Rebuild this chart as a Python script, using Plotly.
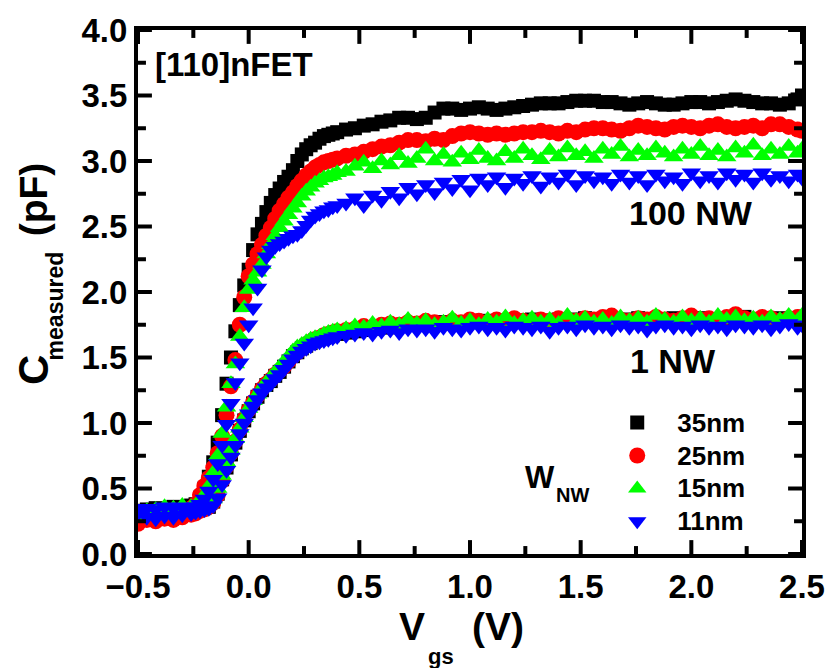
import plotly.graph_objects as go

# Gate voltage sweep points (V)
V = [-0.50, -0.46, -0.42, -0.38, -0.34, -0.30, -0.26,
     -0.24, -0.22, -0.20, -0.18, -0.16, -0.14, -0.12, -0.10, -0.08, -0.06,
     -0.04, -0.02, 0.00, 0.02, 0.04, 0.06, 0.08, 0.10, 0.12, 0.14, 0.16,
     0.18, 0.20, 0.22, 0.24, 0.26, 0.28, 0.30, 0.32, 0.34, 0.36, 0.38, 0.40,
     0.44, 0.48, 0.52, 0.56, 0.60, 0.64, 0.68, 0.72, 0.76, 0.80,
     0.84, 0.88, 0.92, 0.96, 1.00, 1.04, 1.08, 1.12, 1.16, 1.20,
     1.24, 1.28, 1.32, 1.36, 1.40, 1.44, 1.48, 1.52, 1.56, 1.60,
     1.64, 1.68, 1.72, 1.76, 1.80, 1.84, 1.88, 1.92, 1.96, 2.00,
     2.04, 2.08, 2.12, 2.16, 2.20, 2.24, 2.28, 2.32, 2.36, 2.40,
     2.44, 2.48, 2.50]

# Measured capacitance (pF), 100 nanowires in parallel
C100_35 = ([0.33, 0.34, 0.35, 0.34, 0.36, 0.35, 0.37]
           + [0.38, 0.43, 0.50, 0.59, 0.70, 0.85, 1.06, 1.30, 1.50, 1.70,
              1.90, 2.05, 2.17, 2.32, 2.44, 2.52, 2.61, 2.68, 2.74, 2.79,
              2.84, 2.88, 2.93, 3.00, 3.05, 3.09, 3.12, 3.14, 3.17, 3.19,
              3.20, 3.21, 3.22]
           + [3.24, 3.25, 3.27, 3.28, 3.30, 3.31, 3.33, 3.33, 3.32, 3.33,
              3.37, 3.40, 3.40, 3.39, 3.40, 3.41, 3.40, 3.39, 3.40, 3.41,
              3.42, 3.43, 3.44, 3.44, 3.44, 3.45, 3.46, 3.46, 3.46, 3.45,
              3.45, 3.44, 3.43, 3.44, 3.45, 3.44, 3.43, 3.43, 3.44, 3.45,
              3.45, 3.44, 3.45, 3.46, 3.47, 3.46, 3.45, 3.44, 3.44, 3.43,
              3.44, 3.47, 3.50])
C100_25 = ([0.25, 0.27, 0.29, 0.30, 0.31, 0.33, 0.35]
           + [0.38, 0.45, 0.52, 0.58, 0.66, 0.77, 0.90, 1.06, 1.28, 1.48,
              1.75, 1.96, 2.12, 2.21, 2.29, 2.36, 2.43, 2.49, 2.56, 2.62,
              2.67, 2.72, 2.76, 2.81, 2.85, 2.89, 2.92, 2.95, 2.97, 2.99,
              3.00, 3.01, 3.02]
           + [3.04, 3.05, 3.07, 3.09, 3.11, 3.12, 3.14, 3.16, 3.16, 3.15,
              3.17, 3.16, 3.19, 3.21, 3.22, 3.21, 3.20, 3.21, 3.20, 3.21,
              3.22, 3.22, 3.23, 3.22, 3.21, 3.23, 3.22, 3.24, 3.25, 3.25,
              3.24, 3.23, 3.25, 3.27, 3.26, 3.25, 3.24, 3.26, 3.27, 3.26,
              3.25, 3.27, 3.28, 3.26, 3.25, 3.26, 3.27, 3.25, 3.28, 3.28,
              3.26, 3.24, 3.23])
C100_15 = ([0.31, 0.33, 0.34, 0.36, 0.35, 0.37, 0.36]
           + [0.37, 0.40, 0.45, 0.52, 0.62, 0.75, 0.92, 1.12, 1.30, 1.45,
              1.66, 1.88, 2.02, 2.09, 2.15, 2.21, 2.29, 2.36, 2.43, 2.49,
              2.54, 2.59, 2.64, 2.68, 2.73, 2.77, 2.80, 2.83, 2.85, 2.87,
              2.88, 2.89, 2.91]
           + [2.92, 2.96, 2.99, 2.94, 3.00, 2.97, 3.04, 2.98, 3.02, 3.09,
              3.00, 3.05, 2.99, 3.06, 3.01, 3.08, 3.02, 3.00, 3.07, 3.02,
              3.09, 3.04, 3.01, 3.08, 3.03, 3.10, 3.04, 3.07, 3.02, 3.09,
              3.05, 3.11, 3.03, 3.08, 3.04, 3.10, 3.06, 3.03, 3.09, 3.05,
              3.11, 3.04, 3.08, 3.03, 3.10, 3.06, 3.12, 3.04, 3.09, 3.05,
              3.11, 3.06, 3.09])
C100_11 = ([0.34, 0.35, 0.34, 0.36, 0.35, 0.36, 0.35]
           + [0.36, 0.38, 0.42, 0.48, 0.57, 0.69, 0.83, 0.99, 1.15, 1.31,
              1.46, 1.61, 1.75, 1.88, 2.03, 2.17, 2.27, 2.32, 2.35, 2.37,
              2.39, 2.41, 2.43, 2.44, 2.47, 2.51, 2.55, 2.58, 2.60, 2.62,
              2.63, 2.65, 2.66]
           + [2.68, 2.72, 2.66, 2.74, 2.70, 2.77, 2.72, 2.80, 2.75, 2.82,
              2.76, 2.84, 2.79, 2.86, 2.78, 2.87, 2.82, 2.88, 2.80, 2.87,
              2.83, 2.89, 2.81, 2.88, 2.84, 2.90, 2.82, 2.89, 2.85, 2.88,
              2.83, 2.90, 2.84, 2.89, 2.82, 2.90, 2.85, 2.88, 2.83, 2.91,
              2.85, 2.89, 2.84, 2.91, 2.86, 2.90, 2.84, 2.91, 2.86, 2.89,
              2.85, 2.90, 2.87])

# Measured capacitance (pF), single nanowire
C1_35 = ([0.29, 0.30, 0.31, 0.30, 0.32, 0.31, 0.33]
         + [0.33, 0.34, 0.35, 0.36, 0.40, 0.46, 0.57, 0.66, 0.76, 0.85,
            0.94, 1.02, 1.09, 1.15, 1.20, 1.25, 1.29, 1.32, 1.36, 1.39,
            1.43, 1.47, 1.51, 1.54, 1.57, 1.59, 1.61, 1.63, 1.64, 1.65,
            1.66, 1.67, 1.68]
         + [1.69, 1.70, 1.71, 1.72, 1.73, 1.73, 1.74, 1.75, 1.75, 1.76,
            1.76, 1.77, 1.76, 1.77, 1.77, 1.78, 1.77, 1.78, 1.77, 1.78,
            1.78, 1.79, 1.78, 1.78, 1.79, 1.78, 1.79, 1.80, 1.79, 1.78,
            1.79, 1.78, 1.79, 1.80, 1.79, 1.78, 1.79, 1.80, 1.79, 1.79,
            1.80, 1.79, 1.78, 1.79, 1.80, 1.81, 1.79, 1.78, 1.79, 1.80,
            1.79, 1.80, 1.81])
C1_25 = ([0.23, 0.26, 0.25, 0.27, 0.26, 0.28, 0.30]
         + [0.31, 0.33, 0.34, 0.36, 0.39, 0.45, 0.56, 0.67, 0.77, 0.86,
            0.95, 1.03, 1.10, 1.16, 1.21, 1.26, 1.30, 1.33, 1.37, 1.40,
            1.43, 1.47, 1.51, 1.54, 1.57, 1.60, 1.62, 1.64, 1.65, 1.67,
            1.68, 1.69, 1.70]
         + [1.71, 1.72, 1.74, 1.73, 1.75, 1.76, 1.75, 1.77, 1.76, 1.78,
            1.77, 1.76, 1.78, 1.77, 1.79, 1.78, 1.77, 1.79, 1.78, 1.80,
            1.78, 1.77, 1.79, 1.78, 1.80, 1.79, 1.78, 1.80, 1.79, 1.81,
            1.82, 1.79, 1.78, 1.80, 1.79, 1.81, 1.79, 1.78, 1.80, 1.82,
            1.79, 1.80, 1.78, 1.81, 1.83, 1.80, 1.79, 1.81, 1.80, 1.78,
            1.80, 1.81, 1.79])
C1_15 = ([0.30, 0.29, 0.33, 0.31, 0.34, 0.32, 0.35]
         + [0.34, 0.36, 0.35, 0.38, 0.42, 0.50, 0.60, 0.70, 0.79, 0.88,
            0.96, 1.04, 1.11, 1.17, 1.22, 1.27, 1.31, 1.35, 1.39, 1.43,
            1.47, 1.51, 1.55, 1.58, 1.60, 1.62, 1.64, 1.65, 1.66, 1.68,
            1.69, 1.70, 1.71]
         + [1.72, 1.74, 1.73, 1.76, 1.74, 1.77, 1.75, 1.79, 1.76, 1.78,
            1.75, 1.77, 1.80, 1.76, 1.78, 1.75, 1.79, 1.77, 1.81, 1.76,
            1.78, 1.80, 1.77, 1.79, 1.76, 1.82, 1.78, 1.80, 1.77, 1.79,
            1.76, 1.81, 1.78, 1.80, 1.77, 1.82, 1.79, 1.77, 1.81, 1.78,
            1.80, 1.77, 1.82, 1.79, 1.81, 1.78, 1.80, 1.77, 1.81, 1.79,
            1.82, 1.78, 1.82])
C1_11 = ([0.31, 0.28, 0.27, 0.29, 0.28, 0.30, 0.31]
         + [0.32, 0.33, 0.34, 0.35, 0.37, 0.43, 0.53, 0.64, 0.74, 0.83,
            0.92, 1.00, 1.07, 1.13, 1.18, 1.23, 1.27, 1.30, 1.34, 1.37,
            1.41, 1.45, 1.49, 1.52, 1.55, 1.57, 1.59, 1.61, 1.62, 1.63,
            1.64, 1.65, 1.66]
         + [1.67, 1.68, 1.69, 1.68, 1.70, 1.71, 1.69, 1.72, 1.71, 1.72,
            1.70, 1.73, 1.72, 1.71, 1.73, 1.74, 1.72, 1.73, 1.71, 1.74,
            1.73, 1.72, 1.74, 1.70, 1.73, 1.74, 1.72, 1.75, 1.73, 1.74,
            1.72, 1.75, 1.73, 1.74, 1.71, 1.74, 1.75, 1.73, 1.74, 1.72,
            1.75, 1.73, 1.74, 1.72, 1.75, 1.74, 1.73, 1.75, 1.72, 1.74,
            1.76, 1.73, 1.75])

WIDTHS = ["35nm", "25nm", "15nm", "11nm"]
SERIES_100 = [C100_35, C100_25, C100_15, C100_11]
SERIES_1 = [C1_35, C1_25, C1_15, C1_11]
COLORS = ["#000000", "#ff0000", "#00ff00", "#0000ff"]
SYMBOLS = ["square", "circle", "triangle-up", "triangle-down"]
SIZES = [14, 16, 17, 17]

# Axis ranges and tick positions
XR, YR = [-0.5, 2.5], [0.0, 4.0]
X_MAJOR = [-0.5, 0.0, 0.5, 1.0, 1.5, 2.0, 2.5]
X_MINOR = [-0.25, 0.25, 0.75, 1.25, 1.75, 2.25]
Y_MAJOR = [0.0, 0.5, 1.0, 1.5, 2.0, 2.5, 3.0, 3.5, 4.0]
Y_MINOR = [0.25, 0.75, 1.25, 1.75, 2.25, 2.75, 3.25, 3.75]

for s in SERIES_100 + SERIES_1:
    assert len(s) == len(V)

FONT = "Liberation Sans"

# Figure geometry (pixels)
W, H = 837, 668
ML, MR, MT, MB = 138, 31, 26, 114
PW, PH = W - ML - MR, H - MT - MB
MAJOR_LEN, MINOR_LEN, TICK_W = 14, 8, 4


def px(x):
    return (x - ML) / PW


def py(y):
    return (MT + PH - y) / PH


fig = go.Figure()
for name, c100, c1, col, sym, sz in zip(WIDTHS, SERIES_100, SERIES_1,
                                        COLORS, SYMBOLS, SIZES):
    mk = dict(color=col, symbol=sym, size=sz, line=dict(width=0))
    fig.add_trace(go.Scatter(
        x=V, y=c100, mode="markers", marker=mk, legendgroup=name,
        name='<span style="font-size:26px">%s</span>' % name,
        showlegend=True))
    fig.add_trace(go.Scatter(x=V, y=c1, mode="markers", marker=mk,
                             name=name, legendgroup=name, showlegend=False))

# Inward tick marks on all four sides; lengths given in pixels and
# converted to axis units with the axis scale.
x_per_px = (XR[1] - XR[0]) / PW
y_per_px = (YR[1] - YR[0]) / PH
tx, ty = [], []
for vals, ln in ((X_MAJOR, MAJOR_LEN), (X_MINOR, MINOR_LEN)):
    d = ln * y_per_px
    for v in vals:
        tx += [v, v, None, v, v, None]
        ty += [YR[0], YR[0] + d, None, YR[1], YR[1] - d, None]
for vals, ln in ((Y_MAJOR, MAJOR_LEN), (Y_MINOR, MINOR_LEN)):
    d = ln * x_per_px
    for v in vals:
        tx += [XR[0], XR[0] + d, None, XR[1], XR[1] - d, None]
        ty += [v, v, None, v, v, None]
fig.add_trace(go.Scatter(x=tx, y=ty, mode="lines", showlegend=False,
                         hoverinfo="skip", cliponaxis=False,
                         line=dict(color="black", width=TICK_W)))

tickfont = dict(family=FONT, size=33, color="black", weight="bold")
fig.update_xaxes(range=XR, tickvals=X_MAJOR, tickformat=".1f", ticks="",
                 tickfont=tickfont, showline=True, linewidth=4,
                 linecolor="black", mirror=True, showgrid=False,
                 zeroline=False)
fig.update_yaxes(range=YR, tickvals=Y_MAJOR, tickformat=".1f", ticks="",
                 tickfont=tickfont, showline=True, linewidth=4,
                 linecolor="black", mirror=True, showgrid=False,
                 zeroline=False)


def label(text, x, y, size, angle=0, anchor="center"):
    fig.add_annotation(text=text, x=px(x), y=py(y), xref="paper",
                       yref="paper", showarrow=False, textangle=angle,
                       xanchor=anchor, yanchor="middle",
                       font=dict(family=FONT, size=size, color="black",
                                 weight="bold"))


# Axis titles
label("V", 414, 627, 39)
label("gs", 443, 657, 22)
label("(V)", 500, 627, 39)
label("C", 33, 369, 42, angle=-90)
label("measured", 54, 304, 23, angle=-90)
label("(pF)", 33, 197, 39, angle=-90)

# In-plot labels
label("[110]nFET", 153, 61, 33, anchor="left")
label("100 NW", 630, 210, 34, anchor="left")
label("1 NW", 631, 360, 34, anchor="left")
label("W", 542, 477, 31)
label("NW", 575, 495, 20)

fig.update_layout(
    width=W, height=H,
    margin=dict(l=ML, r=MR, t=MT, b=MB),
    paper_bgcolor="white", plot_bgcolor="white",
    showlegend=True,
    legend=dict(x=px(600), y=py(400), xanchor="left", yanchor="top",
                bgcolor="rgba(0,0,0,0)", borderwidth=0,
                itemwidth=70, tracegroupgap=0,
                font=dict(family=FONT, size=23, color="black",
                          weight="bold")),
)

fig.write_html("out.html")
